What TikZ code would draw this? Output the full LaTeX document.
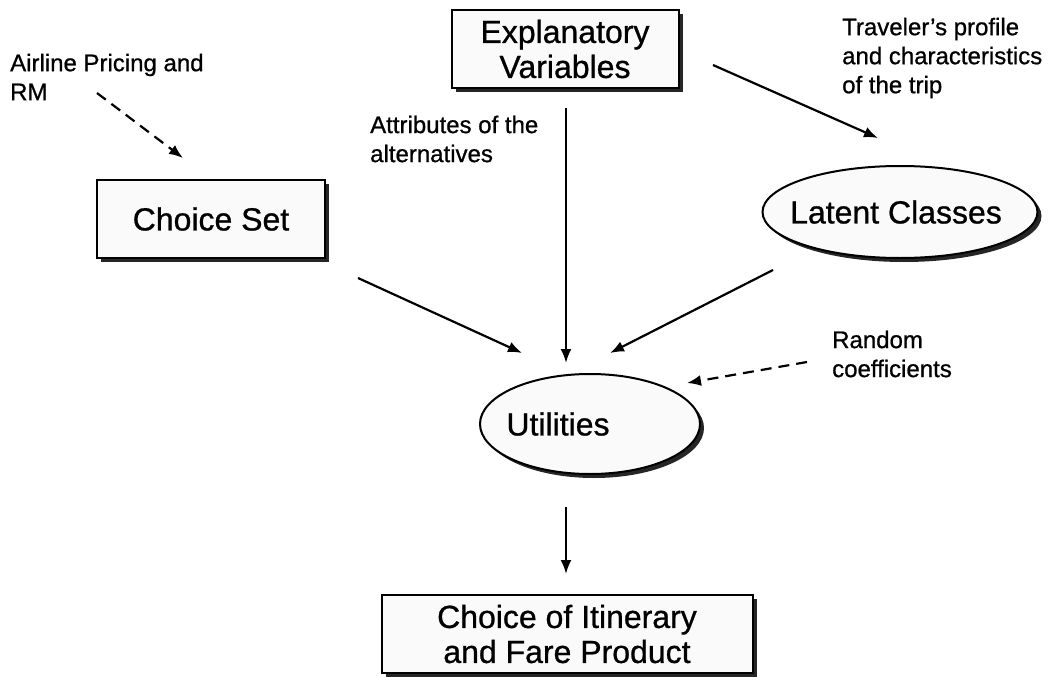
\documentclass[tikz,border=0pt]{standalone}
\usepackage{fontspec}
\setmainfont{Liberation Sans}[RawFeature={embolden=0.8}]
\usepackage{tikz}
\usetikzlibrary{arrows.meta,shadows,shapes.geometric,calc}

\tikzset{
  bigtext/.style={font=\fontsize{32}{35}\selectfont},
  smalltext/.style={font=\fontsize{24}{29}\selectfont, align=left, inner sep=0pt},
  boxnode/.style={draw, line width=2pt, fill=gray!4, bigtext, align=center,
    drop shadow={shadow xshift=4pt, shadow yshift=-4pt, fill=black!85, opacity=1}},
  ovalnode/.style={boxnode, ellipse, inner sep=0pt},
  flow/.style={line width=2.2pt, -{Latex[length=14pt,width=11pt]}},
  dflow/.style={flow, dash pattern=on 11pt off 7pt}
}

\begin{document}
\begin{tikzpicture}[x=1pt,y=-1pt]
\useasboundingbox (0,0) rectangle (1050,677);
\node[boxnode, minimum width=227pt, minimum height=78pt] (expl) at (565,49) {Explanatory\\Variables};
\node[boxnode, minimum width=228pt, minimum height=78pt] (cset) at (211,219) {Choice Set};
\node[ovalnode, minimum width=275pt, minimum height=92pt,
  label={[bigtext, xshift=-4pt]center:Latent Classes}] (latent) at (900,212) {};
\node[ovalnode, minimum width=220pt, minimum height=100pt,
  label={[bigtext, xshift=-32pt]center:Utilities}] (util) at (590,424) {};
\node[boxnode, minimum width=371pt, minimum height=78pt] (choice) at (567,634) {Choice of Itinerary\\and Fare Product};
% labels
\node[smalltext, anchor=west] (airline) at (10,77) {Airline Pricing and\\RM};
\node[smalltext, anchor=west] (attr) at (370,139) {Attributes of the\\alternatives};
\node[smalltext, anchor=west] (trav) at (842,58) {Traveler's profile\\and characteristics\\of the trip};
\node[smalltext, anchor=west] (rand) at (832,354) {Random\\coefficients};
% arrow ends
\coordinate (air-a) at (97,93);
\coordinate (air-b) at (183,158);
\coordinate (expl-a) at (566,108);
\coordinate (expl-b) at (566,363);
\coordinate (trav-a) at (713,65);
\coordinate (trav-b) at (878,138);
\coordinate (cset-a) at (358,278);
\coordinate (cset-b) at (522,353);
\coordinate (lat-a) at (773,270);
\coordinate (lat-b) at (610,353);
\coordinate (rand-a) at (807,362);
\coordinate (rand-b) at (687,383);
\coordinate (util-a) at (566,507);
\coordinate (util-b) at (566,574);
\draw[dflow] (air-a) -- (air-b);
\draw[flow] (expl-a) -- (expl-b);
\draw[flow] (trav-a) -- (trav-b);
\draw[flow] (cset-a) -- (cset-b);
\draw[flow] (lat-a) -- (lat-b);
\draw[dflow] (rand-a) -- (rand-b);
\draw[flow] (util-a) -- (util-b);
\end{tikzpicture}
\end{document}
